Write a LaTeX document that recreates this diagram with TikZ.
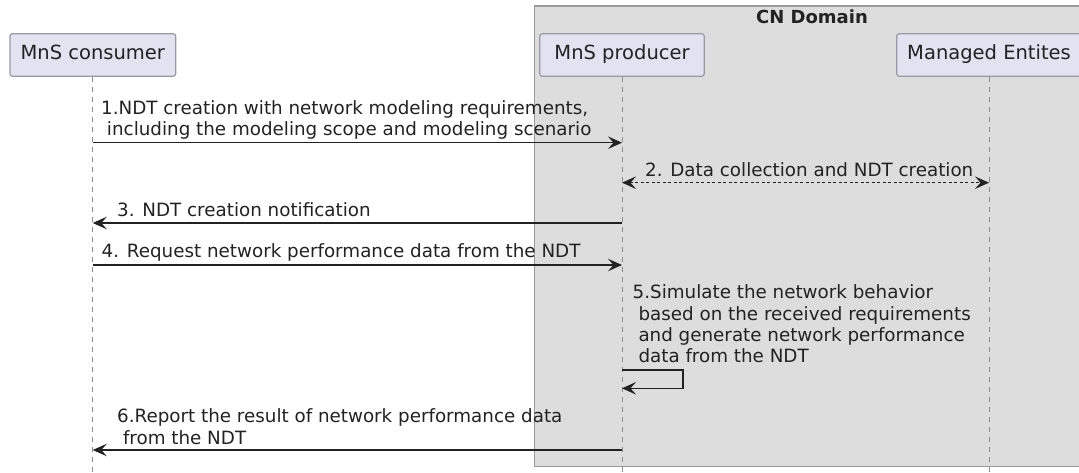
\documentclass[tikz,border=0pt]{standalone}
\usepackage{fontspec}
\setmainfont{DejaVu Sans}
\usetikzlibrary{arrows.meta}
\definecolor{txt}{HTML}{222222}
\definecolor{partfill}{HTML}{E2E2F0}
\definecolor{partdraw}{HTML}{9A9AA6}
\definecolor{boxfill}{HTML}{DDDDDD}
\definecolor{boxdraw}{HTML}{9A9A9A}
\definecolor{lifecol}{HTML}{8C8C8C}
\begin{document}
\begin{tikzpicture}[x=1bp,y=-1bp,
  part/.style={draw=partdraw, fill=partfill, line width=1.2bp, rounded corners=2.5bp,
    minimum height=42.5bp, inner sep=0, text height=14.2bp, text depth=4.5bp,
    font=\fontsize{19.5bp}{22bp}\selectfont, text=txt},
  lbl/.style={font=\fontsize{18.3bp}{21.3bp}\selectfont, text=txt, inner sep=0, anchor=base west},
  tip/.tip={Stealth[length=14bp,width=12.5bp,inset=5.5bp]},
  msg/.style={draw=txt, line width=1.4bp, -tip},
  dmsg/.style={draw=txt, line width=1.4bp, dash pattern=on 3bp off 2.5bp, tip-tip},
  life/.style={draw=lifecol, line width=1bp, dash pattern=on 5bp off 5bp},
]
\useasboundingbox (0,0) rectangle (1079,473);
\clip (0,0) rectangle (1079,473);

% CN Domain box
\draw[fill=boxfill, draw=boxdraw, line width=1.2bp] (534.5,6) rectangle (1092,466.7);
\node[font=\bfseries\fontsize{18bp}{20bp}\selectfont, text=txt, inner sep=0, anchor=base] (cn) at (812,23.3) {CN Domain};

% lifeline ends
\coordinate (cend) at (92.8,473);
\coordinate (pend) at (622,473);
\coordinate (mend) at (989,473);

% participants
\node[part, minimum width=165.7bp] (cons) at (92.8,55) {MnS consumer};
\node[part, minimum width=164.5bp] (prod) at (622,55) {MnS producer};
\node[part, minimum width=184.6bp] (mng) at (989,55) {Managed Entites};

\draw[life] (cons.south) -- (cend);
\draw[life] (prod.south) -- (pend);
\draw[life] (mng.south) -- (mend);

% message points
\coordinate (c1) at (92.8,142.7);  \coordinate (p1) at (622,142.7);
\coordinate (p2) at (622,182.7);   \coordinate (m2) at (989,182.7);
\coordinate (p3) at (622,223);     \coordinate (c3) at (92.8,223);
\coordinate (c4) at (92.8,265);    \coordinate (p4) at (622,265);
\coordinate (p5a) at (622,370);    \coordinate (p5b) at (622,388.3);
\coordinate (p6) at (622,450);     \coordinate (c6) at (92.8,450);

\draw[msg] (c1) -- (p1);
\draw[dmsg] (p2) -- (m2);
\draw[msg] (p3) -- (c3);
\draw[msg] (c4) -- (p4);
\draw[msg] (p5a) -- ++(61,0) |- (p5b);
\draw[msg] (p6) -- (c6);

% labels
\node[lbl] (l1a) at (101,114.4) {1.NDT creation with network modeling requirements,};
\node[lbl] (l1b) at (106.8,135.7) {including the modeling scope and modeling scenario};
\node[lbl] (l2) at (645,176.2) {2. Data collection and NDT creation};
\node[lbl] (l3) at (117,216.5) {3. NDT creation notification};
\node[lbl] (l4) at (101.5,258) {4. Request network performance data from the NDT};
\node[lbl] (l5a) at (632.5,299) {5.Simulate the network behavior};
\node[lbl] (l5b) at (638.3,320.3) {based on the received requirements};
\node[lbl] (l5c) at (638.3,341.6) {and generate network performance};
\node[lbl] (l5d) at (638.3,362.9) {data from the NDT};
\node[lbl] (l6a) at (117,422.7) {6.Report the result of network performance data};
\node[lbl] (l6b) at (122.8,444) {from the NDT};
\end{tikzpicture}
\end{document}
